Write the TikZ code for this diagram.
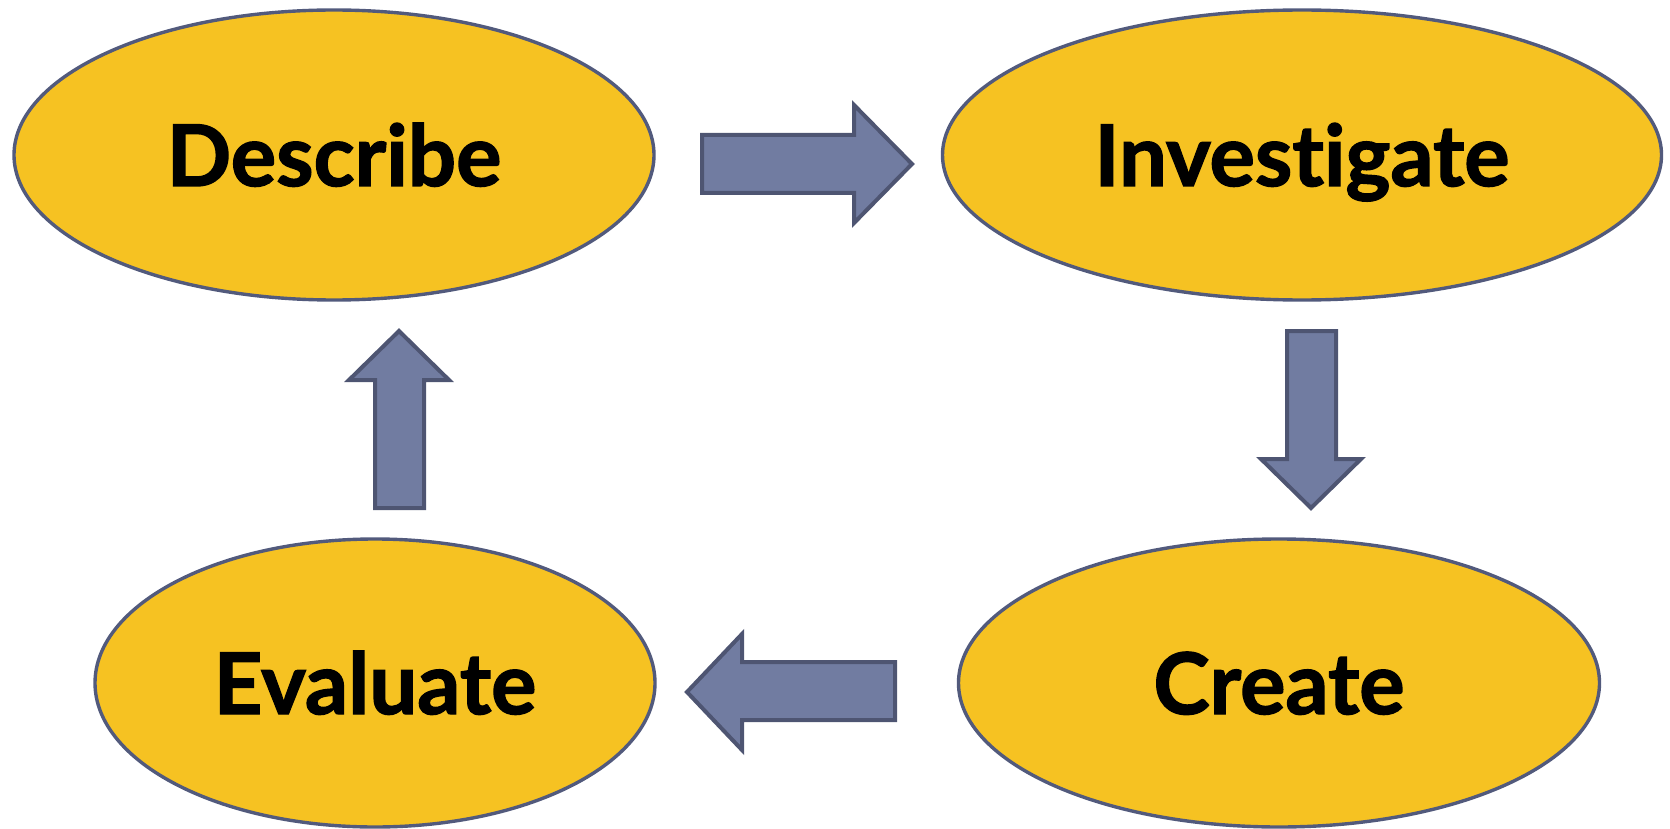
\documentclass[tikz,border=0pt]{standalone}
\usepackage{fontspec}
\setmainfont{Lato}[Ligatures={NoCommon}, BoldFeatures={FakeBold=1.6}]
\usetikzlibrary{shapes.geometric}
\definecolor{ellfill}{HTML}{F6C222}
\definecolor{elldraw}{HTML}{525A7C}
\definecolor{arrfill}{HTML}{717CA1}
\definecolor{arrdraw}{HTML}{4E5572}
\tikzset{
  oval/.style={ellipse, fill=ellfill, draw=elldraw, line width=3.4pt, inner sep=0pt},
  lbl/.style={anchor=base, inner sep=0pt, font=\fontsize{85}{100}\selectfont\bfseries},
  blockarrow/.style={fill=arrfill, draw=arrdraw, line width=4pt, line join=miter}
}
\begin{document}
\begin{tikzpicture}[x=1pt, y=-1pt]
\useasboundingbox (0,0) rectangle (1670,829);
% ellipses
\node[oval, minimum width=640pt, minimum height=290pt] (desc) at (334,155) {};
\node[oval, minimum width=719pt, minimum height=290pt] (inv) at (1302,155) {};
\node[oval, minimum width=560pt, minimum height=288pt] (eval) at (375,683) {};
\node[oval, minimum width=641pt, minimum height=288pt] (crea) at (1279,683) {};
% labels
\node[lbl] (tdesc) at (334,186) {Describe};
\node[lbl] (tinv) at (1302,186) {Investigate};
\node[lbl] (teval) at (375,714) {Evaluate};
\node[lbl] (tcrea) at (1279,714) {Create};
% block arrows
\draw[blockarrow] (702,135) -- (854,135) -- (854,105) -- (912,164) -- (854,223) -- (854,193) -- (702,193) -- cycle;
\draw[blockarrow] (1287,331) -- (1336,331) -- (1336,459) -- (1361,459) -- (1311,508) -- (1261,459) -- (1287,459) -- cycle;
\draw[blockarrow] (895,662) -- (742,662) -- (742,634) -- (687,692) -- (742,750) -- (742,720) -- (895,720) -- cycle;
\draw[blockarrow] (375,508) -- (375,380) -- (349,380) -- (399,331) -- (449,380) -- (424,380) -- (424,508) -- cycle;
\end{tikzpicture}
\end{document}
